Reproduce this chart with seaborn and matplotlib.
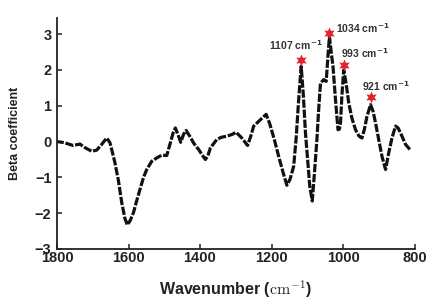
import matplotlib
matplotlib.use("Agg")
import matplotlib.pyplot as plt
import seaborn as sns
import pandas as pd

# Spectrum
wavenumber = [1800, 1780, 1755, 1736, 1720, 1703, 1689, 1675, 1661, 1652,
              1645, 1638, 1628, 1619, 1610, 1603, 1595, 1586, 1577, 1568,
              1558, 1549, 1535, 1520, 1507, 1493, 1483, 1475, 1469, 1460,
              1454, 1446, 1439, 1428, 1418, 1404, 1392, 1385, 1378, 1371,
              1353, 1340, 1325, 1310, 1299, 1283, 1267, 1258, 1250, 1231,
              1215, 1205, 1192, 1180, 1168, 1157, 1148, 1138, 1131, 1124,
              1117, 1111, 1105, 1093, 1086, 1080, 1073, 1068, 1063, 1054,
              1047, 1042, 1038, 1033, 1028, 1021, 1014, 1010, 1007, 1003,
              998, 991, 984, 975, 965, 955, 947, 940, 933, 923,
              916, 909, 900, 891, 881, 872, 863, 853, 846, 839,
              825, 813]
beta = [0.00, -0.03, -0.11, -0.07, -0.18, -0.27, -0.24, -0.08, 0.10, -0.03,
        -0.30, -0.59, -1.10, -1.70, -2.15, -2.33, -2.20, -1.98, -1.65, -1.34,
        -1.00, -0.78, -0.55, -0.45, -0.38, -0.39, -0.04, 0.25, 0.38, 0.15,
        -0.02, 0.20, 0.31, 0.14, -0.04, -0.22, -0.40, -0.50, -0.40, -0.18,
        0.06, 0.12, 0.15, 0.20, 0.26, 0.10, -0.11, 0.15, 0.43, 0.61,
        0.76, 0.50, 0.05, -0.41, -0.85, -1.22, -1.05, -0.69, 0.10, 1.17,
        2.10, 1.30, 0.24, -1.24, -1.66, -0.90, 0.06, 0.90, 1.63, 1.73,
        1.68, 2.40, 2.93, 2.50, 2.10, 1.17, 0.33, 0.35, 0.52, 1.30,
        2.00, 1.60, 1.08, 0.65, 0.33, 0.15, 0.10, 0.35, 0.70, 1.03,
        0.85, 0.52, 0.05, -0.41, -0.78, -0.31, 0.10, 0.43, 0.38, 0.24,
        -0.08, -0.22]

# Marked peaks
peak_x = [1117, 1038, 998, 923]
peak_star_y = [2.28, 3.04, 2.13, 1.25]
peak_labels = ["1107", "1034", "993", "921"]
label_x = [1206, 1019, 1005, 948]
label_y = [2.70, 3.17, 2.47, 1.54]

xticks = [1800, 1600, 1400, 1200, 1000, 800]
yticks = [-3, -2, -1, 0, 1, 2, 3]

sns.set_theme(style="ticks")
plt.rcParams['font.family'] = ['Liberation Sans', 'DejaVu Sans']
plt.rcParams['font.weight'] = 'bold'

df = pd.DataFrame({"wavenumber": wavenumber, "beta": beta})

fig = plt.figure(figsize=(4.27, 3.0), dpi=100)
ax = fig.add_axes([57 / 427, 51 / 300, 357.5 / 427, 231 / 300])

sns.lineplot(data=df, x="wavenumber", y="beta", ax=ax, color="#111111",
             linewidth=2.3, dashes=False)
line = ax.get_lines()[0]
line.set_linestyle((0, (2.6, 0.55)))
line.set_dash_capstyle("butt")

sns.scatterplot(x=peak_x, y=peak_star_y, ax=ax, marker=(6, 1, 0), s=75,
                color="#e0262a", linewidth=0, zorder=5)

for lx, ly, lab in zip(label_x, label_y, peak_labels):
    ax.text(lx, ly, lab + r" cm$^{\mathbf{-1}}$", fontsize=7.5, fontweight="bold",
            color="#333333", ha="left", va="center", math_fontfamily="dejavusans")

ax.set_xlim(1800, 800)
ax.set_ylim(-3, 3.45)
ax.set_xticks(xticks)
ax.set_yticks(yticks)
ax.tick_params(direction="in", length=3.5, width=1.1, labelsize=10.5,
               colors="#222222")
ax.tick_params(axis="x", pad=1.5)
ax.tick_params(axis="y", pad=4)
for t in ax.get_xticklabels() + ax.get_yticklabels():
    t.set_fontweight("bold")

sns.despine(ax=ax)
for side in ["left", "bottom"]:
    ax.spines[side].set_linewidth(1.3)
    ax.spines[side].set_color("#222222")

ax.set_xlabel(r"Wavenumber ($\mathrm{cm}^{-1}$)", fontsize=11.5,
              fontweight="bold", color="#222222", math_fontfamily="cm")
ax.set_ylabel("Beta coefficient", fontsize=9, fontweight="bold",
              color="#222222")
ax.xaxis.set_label_coords(0.5, -0.13)
ax.yaxis.set_label_coords(-0.10, 0.5)

fig.savefig("out.png", dpi=100)
